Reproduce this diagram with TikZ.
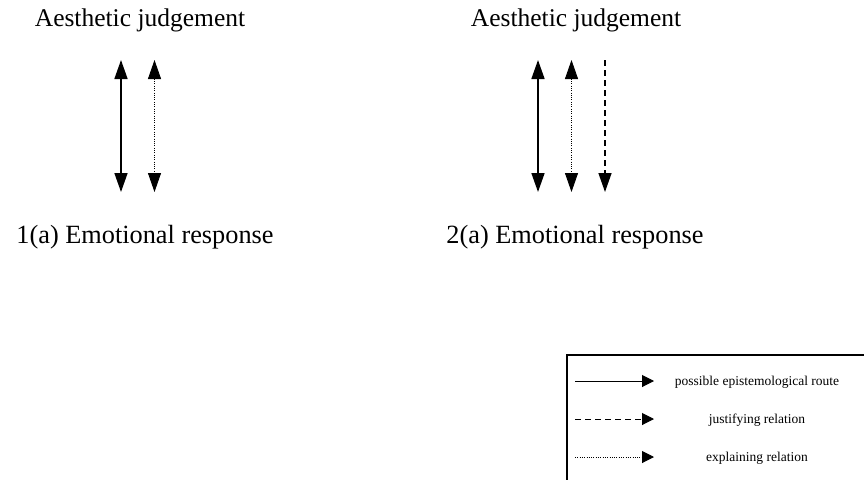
\documentclass[tikz,border=0pt]{standalone}
\usepackage{fontspec}
\setmainfont{Liberation Serif}
\usetikzlibrary{arrows.meta}
\newcommand{\headfont}{\fontsize{25.5}{30}\selectfont}
\newcommand{\respfont}{\fontsize{26.3}{30}\selectfont}
\newcommand{\keyfont}{\fontsize{13.5}{16}\selectfont}
\tikzset{
  route/.style={line width=1.6pt},
  justify/.style={line width=1.4pt, dash pattern=on 6pt off 4pt},
  explain/.style={line width=0.9pt, dash pattern=on 0.9pt off 1.4pt},
  keybox/.style={line width=2pt},
}

\begin{document}
\begin{tikzpicture}[x=1pt, y=-1pt, >={Triangle[length=19pt, width=13pt]}, font=\headfont]
  \def\ytop{60}     % upper tips of the relation arrows
  \def\ybot{192}    % lower tips
  \def\gap{33.5}    % spacing between parallel arrows

  \useasboundingbox (0,0) rectangle (864,479);

  % the two panels
  \node[anchor=base] (judgeA) at (140,27)  {Aesthetic judgement};
  \node[anchor=base, font=\respfont] (respA) at (145,243) {1(a) Emotional response};
  \node[anchor=base] (judgeB) at (576,27)  {Aesthetic judgement};
  \node[anchor=base, font=\respfont] (respB) at (575,243) {2(a) Emotional response};

  % arrow ends
  \coordinate (routeAtop)   at (121,\ytop);      \coordinate (routeAbot)   at (121,\ybot);
  \coordinate (explainAtop) at (121+\gap,\ytop); \coordinate (explainAbot) at (121+\gap,\ybot);
  \coordinate (routeBtop)   at (538,\ytop);      \coordinate (routeBbot)   at (538,\ybot);
  \coordinate (explainBtop) at (538+\gap,\ytop); \coordinate (explainBbot) at (538+\gap,\ybot);
  \coordinate (justifyBtop) at (538+2*\gap,\ytop); \coordinate (justifyBbot) at (538+2*\gap,\ybot);

  % 1(a): route and explanation
  \draw[route, <->]   (routeAtop) -- (routeAbot);
  \draw[explain, <->] (explainAtop) -- (explainAbot);

  % 2(a): route, explanation and justification
  \draw[route, <->]   (routeBtop) -- (routeBbot);
  \draw[explain, <->] (explainBtop) -- (explainBbot);
  \draw[justify, ->]  (justifyBtop) -- (justifyBbot);

  % key, running off the lower right corner
  \draw[keybox] (567,480) -- (567,355) -- (865,355);
  \begin{scope}[>={Triangle[length=12pt, width=12pt]}, font=\keyfont]
    \foreach \name/\sty/\y/\txt in {route/route/381/possible epistemological route,
                                    justify/justify/419/justifying relation,
                                    explain/explain/457/explaining relation} {
      \coordinate (key\name L) at (575,\y);
      \coordinate (key\name R) at (654,\y);
      \draw[\sty, line width=1pt, ->] (key\name L) -- (key\name R);
      \node[anchor=base] (key\name) at (757,\y+4) {\txt};
    }
  \end{scope}
\end{tikzpicture}
\end{document}
